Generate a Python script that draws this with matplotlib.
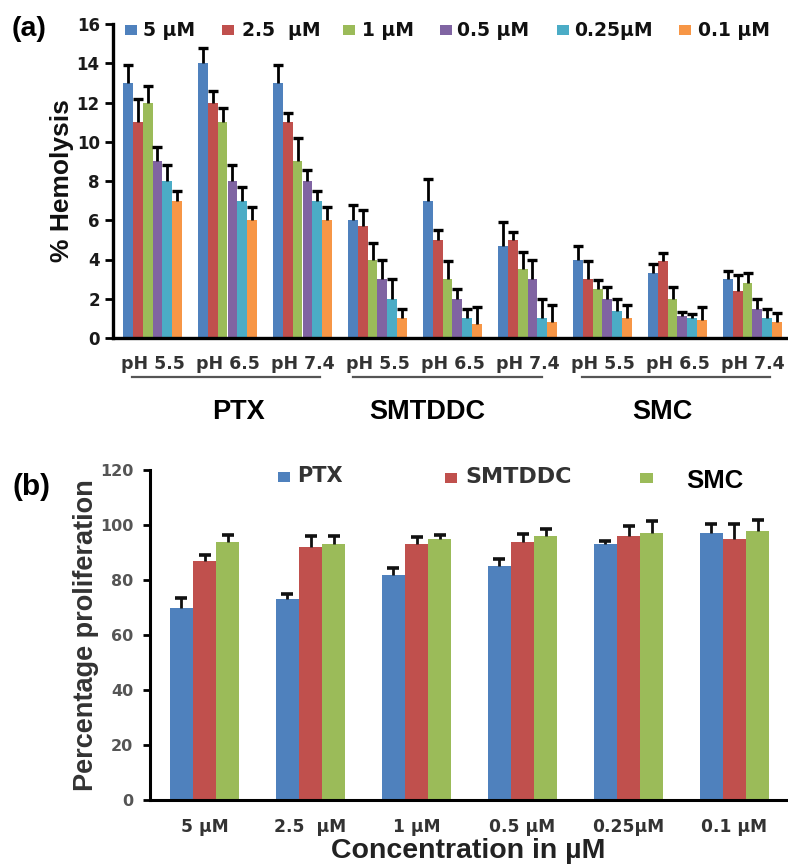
import numpy as np
import matplotlib
matplotlib.use("Agg")
import matplotlib.pyplot as plt
from matplotlib.patches import Rectangle
from matplotlib.lines import Line2D

# ---------------- data ----------------
conc_labels = ["5 µM", "2.5  µM", "1 µM", "0.5 µM", "0.25µM", "0.1 µM"]
ph_labels = ["pH 5.5", "pH 6.5", "pH 7.4"] * 3
formulations = ["PTX", "SMTDDC", "SMC"]

# % hemolysis, one list per concentration across the 9 formulation/pH groups
hemo_5 = [13.0, 14.0, 13.0, 6.0, 7.0, 4.7, 4.0, 3.3, 3.0]
hemo_2_5 = [11.0, 12.0, 11.0, 5.7, 5.0, 5.0, 3.0, 3.9, 2.4]
hemo_1 = [12.0, 11.0, 9.0, 4.0, 3.0, 3.5, 2.5, 2.0, 2.8]
hemo_0_5 = [9.0, 8.0, 8.0, 3.0, 2.0, 3.0, 2.0, 1.1, 1.5]
hemo_0_25 = [8.0, 7.0, 7.0, 2.0, 1.0, 1.0, 1.4, 1.0, 1.0]
hemo_0_1 = [7.0, 6.0, 6.0, 1.0, 0.7, 0.8, 1.0, 0.9, 0.8]

hemo_err_5 = [0.9, 0.8, 0.9, 0.8, 1.1, 1.2, 0.7, 0.45, 0.4]
hemo_err_2_5 = [1.2, 0.6, 0.45, 0.8, 0.5, 0.4, 0.9, 0.45, 0.8]
hemo_err_1 = [0.85, 0.7, 1.2, 0.85, 0.9, 0.9, 0.45, 0.6, 0.5]
hemo_err_0_5 = [0.75, 0.8, 0.55, 1.0, 0.5, 1.0, 0.6, 0.2, 0.5]
hemo_err_0_25 = [0.8, 0.7, 0.5, 1.0, 0.5, 1.0, 0.6, 0.2, 0.5]
hemo_err_0_1 = [0.5, 0.7, 0.7, 0.5, 0.9, 0.9, 0.7, 0.7, 0.45]

# % proliferation per formulation across concentrations
prolif_ptx = [70, 73, 82, 85, 93, 97]
prolif_smtddc = [87, 92, 93, 94, 96, 95]
prolif_smc = [94, 93, 95, 96, 97, 98]
prolif_err_ptx = [3.5, 2.0, 2.5, 2.5, 1.2, 3.5]
prolif_err_smtddc = [2.0, 4.0, 2.5, 2.8, 3.5, 5.5]
prolif_err_smc = [2.4, 3.0, 1.5, 2.4, 4.5, 4.0]

hemo_series = [hemo_5, hemo_2_5, hemo_1, hemo_0_5, hemo_0_25, hemo_0_1]
hemo_errs = [hemo_err_5, hemo_err_2_5, hemo_err_1, hemo_err_0_5, hemo_err_0_25, hemo_err_0_1]
prolif_series = [prolif_ptx, prolif_smtddc, prolif_smc]
prolif_errs = [prolif_err_ptx, prolif_err_smtddc, prolif_err_smc]

colors6 = ["#4F81BD", "#C0504D", "#9BBB59", "#8064A2", "#4BACC6", "#F79646"]

# ---------------- figure ----------------
W, H = 788, 865
fig = plt.figure(figsize=(W / 100, H / 100), dpi=100)


def fx(x):
    return x / W


def fy(y):
    return 1 - y / H


WIDE = "DejaVu Sans"
ARIAL = "Liberation Sans"


def upper_errorbar(ax, xs, vals, errs, color, lw, capsize, capthick):
    """One-sided (upward) error bars with a cap only at the top end."""
    n = len(vals)
    _, caps, _ = ax.errorbar(xs, vals, yerr=[np.zeros(n), errs], fmt="none", ecolor=color,
                             elinewidth=lw, capsize=capsize, capthick=capthick, zorder=3)
    for cap in caps:
        if np.allclose(cap.get_ydata(), vals):
            cap.set_visible(False)


# ---------------- panel (a) ----------------
a_left, a_right, a_top, a_bot = 113, 787, 24, 338
ax1 = fig.add_axes([fx(a_left), fy(a_bot), (a_right - a_left) / W, (a_bot - a_top) / H])
ng = len(ph_labels)
gx = np.arange(ng)
bw = 0.131
for j, (vals, errs) in enumerate(zip(hemo_series, hemo_errs)):
    xs = gx + (j - 2.5) * bw
    ax1.bar(xs, vals, width=bw, color=colors6[j], edgecolor="none", zorder=2)
    upper_errorbar(ax1, xs, vals, errs, "black", 2.0, 3.8, 2.4)

spacing_px = 75.0
c0 = 152.5
ax1.set_xlim((a_left - c0) / spacing_px, (a_right - c0) / spacing_px)
ax1.set_ylim(0, 16)
ax1.set_yticks(np.arange(0, 17, 2))
ax1.set_yticklabels([str(v) for v in range(0, 17, 2)], fontfamily=WIDE,
                    fontweight="bold", fontsize=12, color="#1a1a1a")
ax1.set_xticks(gx)
ax1.set_xticklabels(ph_labels, fontfamily=WIDE, fontweight="bold", fontsize=12.5, color="#333333")
ax1.tick_params(axis="y", direction="out", length=6, width=2, pad=3.5)
ax1.tick_params(axis="x", length=0, pad=12)
for s in ["top", "right"]:
    ax1.spines[s].set_visible(False)
ax1.spines["left"].set_linewidth(2.4)
ax1.spines["bottom"].set_linewidth(2.4)

fig.text(fx(62), fy(181), "% Hemolysis", rotation=90, ha="center", va="center",
         fontfamily=ARIAL, fontweight="bold", fontsize=19, color="#111111")
fig.text(fx(12), fy(36), "(a)", ha="left", va="baseline", fontfamily=ARIAL,
         fontweight="bold", fontsize=20.5, color="black")

# legend row for panel (a)
leg_marker_x = [125, 222, 343, 440, 557, 679]
leg_text_x = [143, 242, 362, 457, 574, 698]
for j, lab in enumerate(conc_labels):
    fig.patches.append(Rectangle((fx(leg_marker_x[j]), fy(35)), 12 / W, 10 / H,
                                 transform=fig.transFigure, facecolor=colors6[j],
                                 edgecolor="none"))
    fig.text(fx(leg_text_x[j]), fy(30), lab, ha="left", va="center", fontfamily=WIDE,
             fontweight="bold", fontsize=13.5, color="#111111")

# formulation brackets under the pH labels
bracket_spans = [(132, 320), (353, 542), (582, 770)]
group_centers = [239, 427, 662]
for (x0, x1), cx, name in zip(bracket_spans, group_centers, formulations):
    fig.add_artist(Line2D([fx(x0), fx(x1)], [fy(377), fy(377)], color="#555555",
                          linewidth=1.6, transform=fig.transFigure))
    fig.text(fx(cx), fy(419), name, ha="center", va="baseline", fontfamily=ARIAL,
             fontweight="bold", fontsize=19.5, color="black")

# ---------------- panel (b) ----------------
b_left, b_right, b_top, b_bot = 150, 787, 470, 800
ax2 = fig.add_axes([fx(b_left), fy(b_bot), (b_right - b_left) / W, (b_bot - b_top) / H])
nc = len(conc_labels)
cx_b = np.arange(nc)
bw2 = 0.217
colors3 = ["#4F81BD", "#C0504D", "#9BBB59"]
for j, (vals, errs) in enumerate(zip(prolif_series, prolif_errs)):
    xs = cx_b + (j - 1) * bw2
    ax2.bar(xs, vals, width=bw2, color=colors3[j], edgecolor="none", zorder=2)
    upper_errorbar(ax2, xs, vals, errs, "#111111", 2.0, 4.2, 2.6)

spacing_b = 106.0
c0b = 204.5
ax2.set_xlim((b_left - c0b) / spacing_b, (b_right - c0b) / spacing_b)
ax2.set_ylim(0, 120)
ax2.set_yticks(np.arange(0, 121, 20))
ax2.set_yticklabels([str(v) for v in range(0, 121, 20)], fontfamily=WIDE,
                    fontweight="bold", fontsize=11.5, color="#555555")
ax2.set_xticks(cx_b)
ax2.set_xticklabels(conc_labels, fontfamily=WIDE, fontweight="bold", fontsize=12.3, color="#333333")
ax2.tick_params(axis="y", direction="out", length=5, width=2, pad=7)
ax2.tick_params(axis="x", length=0, pad=13)
for s in ["top", "right"]:
    ax2.spines[s].set_visible(False)
ax2.spines["left"].set_linewidth(2.2)
ax2.spines["bottom"].set_linewidth(2.2)

fig.text(fx(86), fy(635), "Percentage proliferation", rotation=90, ha="center", va="center",
         fontfamily=ARIAL, fontweight="bold", fontsize=19.5, color="#333333")
fig.text(fx(468), fy(858), "Concentration in µM", ha="center", va="baseline",
         fontfamily=ARIAL, fontweight="bold", fontsize=20.5, color="#222222")
fig.text(fx(13), fy(495), "(b)", ha="left", va="baseline", fontfamily=ARIAL,
         fontweight="bold", fontsize=21.5, color="black")

# legend for panel (b)
fig.patches.append(Rectangle((fx(278), fy(482)), 12 / W, 10 / H, transform=fig.transFigure,
                             facecolor=colors3[0], edgecolor="none"))
fig.text(fx(297), fy(476), "PTX", ha="left", va="center", fontfamily=WIDE,
         fontweight="bold", fontsize=15, color="#333333")
fig.patches.append(Rectangle((fx(445), fy(483)), 12 / W, 10 / H, transform=fig.transFigure,
                             facecolor=colors3[1], edgecolor="none"))
fig.text(fx(465), fy(477), "SMTDDC", ha="left", va="center", fontfamily=WIDE,
         fontweight="bold", fontsize=16, color="#333333")
fig.patches.append(Rectangle((fx(640), fy(483)), 13 / W, 10 / H, transform=fig.transFigure,
                             facecolor=colors3[2], edgecolor="none"))
fig.text(fx(715), fy(481), "SMC", ha="center", va="center", fontfamily=ARIAL,
         fontweight="bold", fontsize=18.5, color="black")

fig.savefig("out.png", dpi=100)
